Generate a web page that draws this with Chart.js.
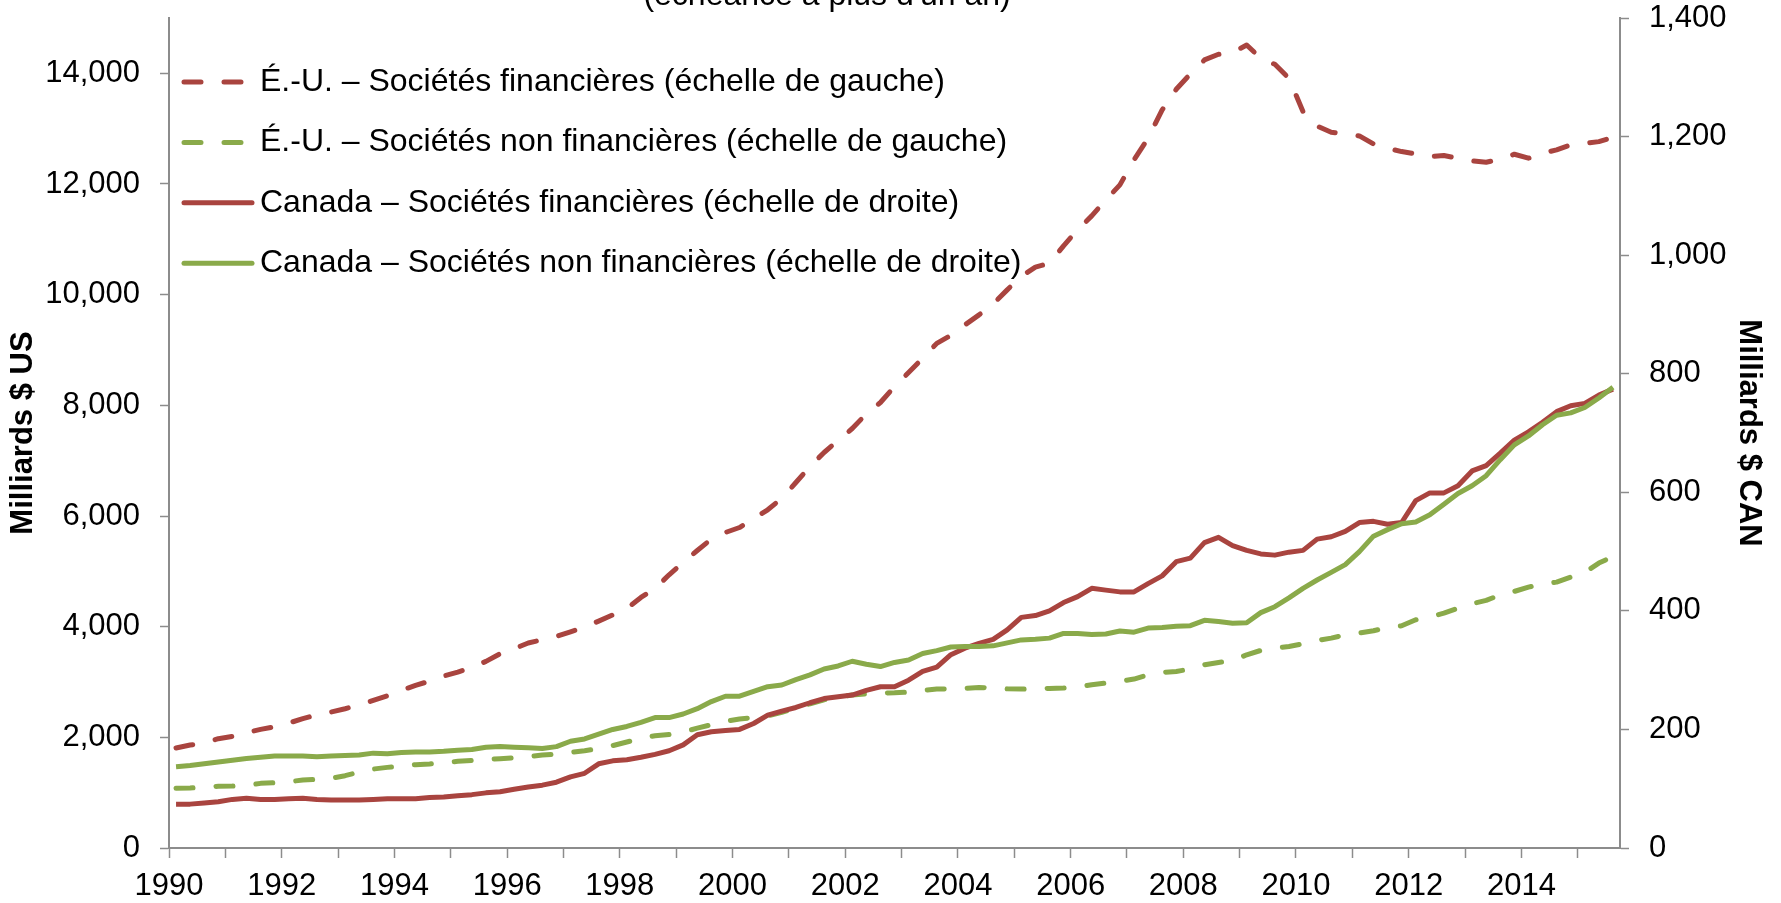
<!DOCTYPE html>
<html>
<head>
<meta charset="utf-8">
<script src="https://cdn.jsdelivr.net/npm/chart.js@4.4.0/dist/chart.umd.min.js"></script>
<style>
html, body { margin: 0; padding: 0; background: #fff; overflow: hidden; }
#wrap { position: absolute; left: 0; top: 0; width: 1781px; height: 903px; }
</style>
</head>
<body>
<div id="wrap"><canvas id="bondChart"></canvas></div>
<script>
// quarterly observations, 1990T1 to 2015T3
var quarters = [];
for (var yr = 1990; yr <= 2015; yr++) {
    for (var q = 1; q <= 4; q++) {
        if (quarters.length < 103) quarters.push(yr + 'T' + q);
    }
}

// É.-U. financières, milliards $ US (left axis)
var usFinancial = [
    1807, 1861, 1897, 1975, 2017, 2084, 2144, 2192, 2258, 2337, 2409, 2457, 2517, 2583, 2668, 2752,
    2849, 2939, 3017, 3107, 3180, 3264, 3372, 3511, 3601, 3704, 3764, 3824, 3908, 3993, 4101, 4212,
    4330, 4528, 4691, 4937, 5160, 5377, 5582, 5702, 5792, 5949, 6112, 6322, 6605, 6895, 7148, 7365,
    7581, 7846, 8051, 8340, 8593, 8852, 9120, 9265, 9454, 9635, 9834, 10087, 10328, 10497, 10570, 10882,
    11171, 11424, 11713, 11984, 12435, 12827, 13339, 13712, 13989, 14242, 14344, 14374, 14512, 14271, 14163, 13910,
    13308, 13048, 12935, 12905, 12869, 12725, 12646, 12586, 12544, 12496, 12514, 12466, 12417, 12393, 12448, 12538,
    12466, 12556, 12616, 12706, 12736, 12766, 12844
];

// É.-U. non financières, milliards $ US (left axis)
var usNonFinancial = [
    1078, 1084, 1102, 1114, 1120, 1132, 1168, 1180, 1198, 1228, 1240, 1259, 1307, 1373, 1427, 1457,
    1481, 1506, 1518, 1542, 1566, 1584, 1596, 1614, 1632, 1650, 1680, 1698, 1728, 1758, 1795, 1850,
    1915, 1986, 2028, 2053, 2095, 2167, 2228, 2288, 2330, 2360, 2390, 2450, 2529, 2607, 2679, 2727,
    2764, 2788, 2800, 2806, 2818, 2848, 2872, 2878, 2884, 2902, 2890, 2878, 2872, 2878, 2884, 2890,
    2908, 2950, 2980, 3011, 3053, 3131, 3173, 3191, 3233, 3312, 3354, 3384, 3492, 3571, 3613, 3643,
    3691, 3751, 3793, 3853, 3884, 3926, 3986, 4016, 4125, 4173, 4245, 4335, 4414, 4474, 4576, 4637,
    4715, 4775, 4805, 4896, 4980, 5149, 5269
];

// Canada financières, milliards $ CAN (right axis)
var caFinancial = [
    74, 74, 76, 78, 82, 84, 82, 82, 83, 84, 82, 81, 81, 81, 82, 83,
    83, 83, 85, 86, 88, 90, 93, 95, 99, 103, 106, 111, 120, 126, 142, 147,
    149, 153, 158, 164, 174, 191, 196, 198, 200, 210, 224, 231, 237, 245, 252, 255,
    258, 266, 272, 272, 283, 298, 305, 326, 337, 345, 352, 368, 389, 392, 400, 414,
    424, 438, 435, 432, 432, 446, 459, 483, 489, 515, 524, 510, 502, 496, 494, 499,
    502, 521, 525, 534, 549, 551, 546, 549, 586, 599, 599, 611, 636, 645, 666, 688,
    702, 718, 736, 746, 750, 764, 774
];

// Canada non financières, milliards $ CAN (right axis)
var caNonFinancial = [
    137, 139, 142, 145, 148, 151, 153, 155, 155, 155, 154, 155, 156, 157, 160, 159,
    161, 162, 162, 163, 165, 166, 170, 171, 170, 169, 168, 171, 180, 184, 192, 200,
    205, 212, 220, 220, 226, 235, 247, 256, 256, 264, 272, 275, 284, 292, 302, 307,
    315, 310, 306, 313, 317, 328, 333, 339, 340, 340, 341, 346, 351, 352, 354, 362,
    362, 360, 361, 366, 364, 371, 372, 374, 375, 384, 382, 379, 380, 397, 407, 422,
    438, 452, 465, 478, 500, 526, 537, 547, 550, 562, 580, 598, 611, 628, 655, 680,
    695, 714, 730, 734, 743, 759, 777
];

var leftTicks = [0, 2000, 4000, 6000, 8000, 10000, 12000, 14000];
var rightTicks = [0, 200, 400, 600, 800, 1000, 1200, 1400];

var seriesLabels = [
    'É.-U. – Sociétés financières (échelle de gauche)',
    'É.-U. – Sociétés non financières (échelle de gauche)',
    'Canada – Sociétés financières (échelle de droite)',
    'Canada – Sociétés non financières (échelle de droite)'
];
var chartTitle = "(échéance à plus d'un an)";

var RED = '#A9443F';
var GREEN = '#8AAA4A';
var AXIS_GREY = '#8c8c8c';
var FONT = '"Liberation Sans", Arial, sans-serif';

// the title sits mostly above the visible page, only its lower part shows
var cutTitle = {
    id: 'cutTitle',
    afterDraw: function (chart) {
        var ctx = chart.ctx;
        ctx.save();
        ctx.font = '32px ' + FONT;
        ctx.fillStyle = '#000';
        ctx.textAlign = 'center';
        ctx.textBaseline = 'alphabetic';
        ctx.fillText(chartTitle, 827, 5);
        ctx.restore();
    }
};

var insideLegend = {
    id: 'insideLegend',
    afterDraw: function (chart) {
        var ctx = chart.ctx;
        var area = chart.chartArea;
        var x0 = area.left + 13;
        ctx.save();
        ctx.font = '32px ' + FONT;
        ctx.textBaseline = 'middle';
        chart.data.datasets.forEach(function (ds, i) {
            var y = area.top + 64 + i * 60.4;
            ctx.beginPath();
            ctx.strokeStyle = ds.borderColor;
            ctx.lineWidth = ds.borderWidth;
            ctx.lineCap = 'round';
            if (ds.borderDash && ds.borderDash.length) {
                ctx.setLineDash(ds.borderDash);
                ctx.moveTo(x0 + 2, y);
                ctx.lineTo(x0 + 61, y);
            } else {
                ctx.setLineDash([]);
                ctx.moveTo(x0 + 2, y);
                ctx.lineTo(x0 + 70, y);
            }
            ctx.stroke();
            ctx.setLineDash([]);
            ctx.fillStyle = '#000';
            ctx.textAlign = 'left';
            ctx.fillText(ds.label, x0 + 78, y);
        });
        ctx.restore();
    }
};

// the value axes keep their own width and do not reserve room above the plot
function fixYAxis(width) {
    return function (scale) {
        scale.width = width;
        scale.paddingTop = 0;
        scale.paddingBottom = 0;
    };
}

var ctx = document.getElementById('bondChart').getContext('2d');

new Chart(ctx, {
    type: 'line',
    data: {
        labels: quarters,
        datasets: [{
            label: seriesLabels[0],
            data: usFinancial,
            yAxisID: 'yLeft',
            borderColor: RED,
            borderWidth: 5,
            borderDash: [17, 23],
            borderCapStyle: 'round',
            borderJoinStyle: 'round',
            order: 3
        }, {
            label: seriesLabels[1],
            data: usNonFinancial,
            yAxisID: 'yLeft',
            borderColor: GREEN,
            borderWidth: 5,
            borderDash: [17, 23],
            borderCapStyle: 'round',
            borderJoinStyle: 'round',
            order: 2
        }, {
            label: seriesLabels[2],
            data: caFinancial,
            yAxisID: 'yRight',
            borderColor: RED,
            borderWidth: 5,
            borderJoinStyle: 'round',
            order: 1
        }, {
            label: seriesLabels[3],
            data: caNonFinancial,
            yAxisID: 'yRight',
            borderColor: GREEN,
            borderWidth: 5,
            borderJoinStyle: 'round',
            order: 0
        }]
    },
    options: {
        responsive: true,
        maintainAspectRatio: false,
        animation: false,
        events: [],
        layout: { padding: { top: 18, left: 0, right: 0, bottom: 0 } },
        elements: { point: { radius: 0 }, line: { tension: 0 } },
        plugins: {
            legend: { display: false },
            tooltip: { enabled: false },
            title: { display: false }
        },
        scales: {
            x: {
                type: 'category',
                offset: true,
                grid: {
                    offset: true,
                    drawOnChartArea: false,
                    drawTicks: true,
                    tickLength: 10,
                    tickWidth: 1.5,
                    tickColor: function (c) {
                        return (c.index !== undefined && c.index % 4 === 0) ? AXIS_GREY : 'rgba(0,0,0,0)';
                    }
                },
                border: { color: AXIS_GREY, width: 2 },
                ticks: {
                    autoSkip: false,
                    maxRotation: 0,
                    minRotation: 0,
                    padding: 10,
                    labelOffset: -7,
                    color: '#000',
                    font: { family: FONT, size: 31 },
                    callback: function (value, index) {
                        return index % 8 === 0 ? quarters[index].slice(0, 4) : '';
                    }
                },
                afterFit: function (scale) { scale.height = 55; }
            },
            yLeft: {
                type: 'linear',
                position: 'left',
                min: 0,
                max: 15000,
                afterBuildTicks: function (scale) {
                    scale.ticks = leftTicks.map(function (v) { return { value: v }; });
                },
                grid: {
                    drawOnChartArea: false,
                    drawTicks: true,
                    tickLength: 9,
                    tickWidth: 1.5,
                    tickColor: AXIS_GREY
                },
                border: { color: AXIS_GREY, width: 2 },
                ticks: {
                    padding: 20,
                    color: '#000',
                    font: { family: FONT, size: 31 },
                    callback: function (v) { return v.toLocaleString('en-US'); }
                },
                title: {
                    display: true,
                    text: 'Milliards $ US',
                    color: '#000',
                    font: { family: FONT, size: 31, weight: 'bold' },
                    padding: { top: 5, bottom: 0 }
                },
                afterFit: fixYAxis(169)
            },
            yRight: {
                type: 'linear',
                position: 'right',
                min: 0,
                max: 1400,
                afterBuildTicks: function (scale) {
                    scale.ticks = rightTicks.map(function (v) { return { value: v }; });
                },
                grid: {
                    drawOnChartArea: false,
                    drawTicks: true,
                    tickLength: 9,
                    tickWidth: 1.5,
                    tickColor: AXIS_GREY
                },
                border: { color: AXIS_GREY, width: 2 },
                ticks: {
                    padding: 20,
                    color: '#000',
                    font: { family: FONT, size: 31 },
                    callback: function (v) { return v.toLocaleString('en-US'); }
                },
                title: {
                    display: true,
                    text: 'Milliards $ CAN',
                    color: '#000',
                    font: { family: FONT, size: 31, weight: 'bold' },
                    padding: { top: 13.5, bottom: 0 }
                },
                afterFit: fixYAxis(161)
            }
        }
    },
    plugins: [insideLegend, cutTitle]
});
</script>
</body>
</html>
